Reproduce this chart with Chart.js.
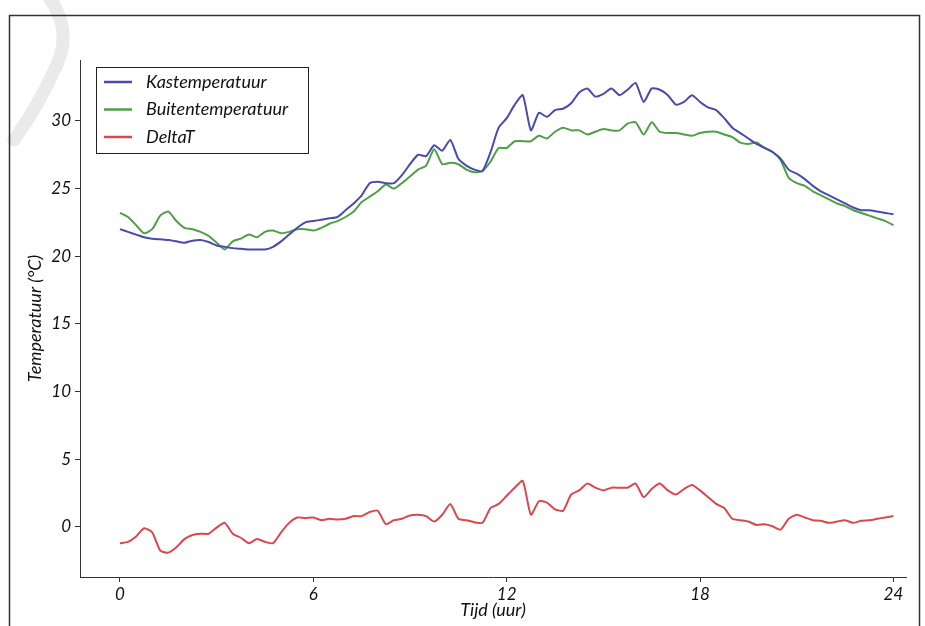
<!DOCTYPE html>
<html>
<head>
<meta charset="utf-8">
<script src="https://cdn.jsdelivr.net/npm/chart.js@4.4.0/dist/chart.umd.min.js"></script>
<style>
  html, body { margin: 0; padding: 0; background: #fff; }
  #wrap { width: 925px; height: 626px; position: relative; }
</style>
</head>
<body>
<div id="wrap"><canvas id="tempChart" width="925" height="626"></canvas></div>
<script>
// tijd in uren (elk kwartier)
const uur = [
  0, 0.25, 0.5, 0.75, 1, 1.25, 1.5, 1.75, 2, 2.25, 2.5, 2.75,
  3, 3.25, 3.5, 3.75, 4, 4.25, 4.5, 4.75, 5, 5.25, 5.5, 5.75,
  6, 6.25, 6.5, 6.75, 7, 7.25, 7.5, 7.75, 8, 8.25, 8.5, 8.75,
  9, 9.25, 9.5, 9.75, 10, 10.25, 10.5, 10.75, 11, 11.25, 11.5, 11.75,
  12, 12.25, 12.5, 12.75, 13, 13.25, 13.5, 13.75, 14, 14.25, 14.5, 14.75,
  15, 15.25, 15.5, 15.75, 16, 16.25, 16.5, 16.75, 17, 17.25, 17.5, 17.75,
  18, 18.25, 18.5, 18.75, 19, 19.25, 19.5, 19.75, 20, 20.25, 20.5, 20.75,
  21, 21.25, 21.5, 21.75, 22, 22.25, 22.5, 22.75, 23, 23.25, 23.5, 23.75, 24
];

const kastemperatuur = [
  22.0, 21.8, 21.6, 21.4, 21.3, 21.25, 21.2, 21.1, 21.0, 21.15, 21.2, 21.05,
  20.8, 20.7, 20.6, 20.55, 20.5, 20.5, 20.5, 20.7, 21.1, 21.6, 22.1, 22.5,
  22.6, 22.7, 22.8, 22.9, 23.4, 23.9, 24.5, 25.4, 25.5, 25.4, 25.4, 26.0,
  26.8, 27.5, 27.4, 28.2, 27.8, 28.6, 27.2, 26.7, 26.4, 26.3, 27.7, 29.5,
  30.2, 31.2, 31.9, 29.3, 30.6, 30.3, 30.8, 30.9, 31.3, 32.1, 32.4, 31.8,
  32.0, 32.4, 31.9, 32.3, 32.8, 31.4, 32.4, 32.3, 31.9, 31.2, 31.4, 31.9,
  31.4, 31.0, 30.8, 30.2, 29.5, 29.1, 28.7, 28.3, 28.0, 27.7, 27.2, 26.4,
  26.1, 25.7, 25.2, 24.8, 24.5, 24.2, 23.9, 23.6, 23.4, 23.4, 23.3, 23.2, 23.1
];

const buitentemperatuur = [
  23.2, 22.9, 22.3, 21.7, 22.0, 23.0, 23.3, 22.6, 22.1, 22.0, 21.8, 21.5,
  21.0, 20.5, 21.1, 21.3, 21.6, 21.4, 21.8, 21.9, 21.7, 21.8, 22.0, 22.0,
  21.9, 22.1, 22.4, 22.6, 22.9, 23.3, 24.0, 24.4, 24.8, 25.3, 25.0, 25.4,
  25.9, 26.4, 26.7, 27.9, 26.8, 26.9, 26.8, 26.4, 26.2, 26.3, 27.0, 28.0,
  28.0, 28.5, 28.5, 28.5, 28.9, 28.7, 29.2, 29.5, 29.3, 29.3, 29.0, 29.2,
  29.4, 29.3, 29.3, 29.8, 29.9, 29.0, 29.9, 29.2, 29.1, 29.1, 29.0, 28.9,
  29.1, 29.2, 29.2, 29.0, 28.8, 28.4, 28.3, 28.4, 28.0, 27.7, 27.1, 25.8,
  25.4, 25.2, 24.8, 24.5, 24.2, 23.9, 23.7, 23.4, 23.2, 23.0, 22.8, 22.6, 22.3
];

const deltaT = [
  -1.2, -1.1, -0.7, -0.1, -0.4, -1.75, -1.9, -1.5, -0.9, -0.6, -0.5, -0.5,
  -0.05, 0.3, -0.5, -0.8, -1.2, -0.9, -1.1, -1.2, -0.4, 0.3, 0.7, 0.65,
  0.7, 0.5, 0.6, 0.55, 0.6, 0.8, 0.8, 1.1, 1.2, 0.2, 0.5, 0.6,
  0.85, 0.9, 0.8, 0.4, 0.9, 1.7, 0.6, 0.5, 0.35, 0.3, 1.4, 1.7,
  2.3, 2.9, 3.4, 0.9, 1.9, 1.8, 1.3, 1.2, 2.4, 2.7, 3.2, 2.9,
  2.7, 2.9, 2.9, 2.9, 3.2, 2.2, 2.8, 3.2, 2.7, 2.4, 2.8, 3.1,
  2.7, 2.2, 1.7, 1.4, 0.6, 0.5, 0.4, 0.15, 0.2, 0.05, -0.2, 0.6,
  0.9, 0.7, 0.5, 0.45, 0.3, 0.4, 0.5, 0.3, 0.45, 0.5, 0.6, 0.7, 0.8
];

const xTicks = [0, 6, 12, 18, 24];
const yTicks = [0, 5, 10, 15, 20, 25, 30];

const fontFam = 'Lato, "Noto Sans", sans-serif';

function toPoints(vals) {
  return uur.map((t, i) => ({ x: t, y: vals[i] }));
}

// lichtgrijze streep linksboven + kader rond de figuur
const framePlugin = {
  id: 'frame',
  beforeDraw(chart) {
    const ctx = chart.ctx;
    ctx.save();
    ctx.strokeStyle = 'rgba(232,232,232,0.9)';
    ctx.lineWidth = 13;
    ctx.lineCap = 'round';
    ctx.beginPath();
    ctx.moveTo(48, -4);
    ctx.quadraticCurveTo(72, 28, 58, 62);
    ctx.quadraticCurveTo(42, 100, 14, 140);
    ctx.stroke();
    ctx.restore();
  },
  afterDraw(chart) {
    const ctx = chart.ctx;
    ctx.save();
    ctx.strokeStyle = '#333';
    ctx.lineWidth = 1.5;
    ctx.beginPath();
    ctx.moveTo(9.5, 630);
    ctx.lineTo(9.5, 15.5);
    ctx.lineTo(919.5, 15.5);
    ctx.lineTo(919.5, 630);
    ctx.stroke();
    ctx.restore();
  }
};

// legenda binnen de grafiek, linksboven
const boxLegend = {
  id: 'boxLegend',
  afterDatasetsDraw(chart) {
    const ctx = chart.ctx;
    const x0 = 96, y0 = 67, w = 212, h = 86;
    ctx.save();
    ctx.fillStyle = '#fff';
    ctx.fillRect(x0, y0, w, h);
    ctx.strokeStyle = '#222';
    ctx.lineWidth = 1;
    ctx.strokeRect(x0 + 0.5, y0 + 0.5, w, h);
    ctx.font = 'italic 18px ' + fontFam;
    ctx.textBaseline = 'middle';
    chart.data.datasets.forEach((ds, i) => {
      const y = 82 + i * 27.5;
      ctx.strokeStyle = ds.borderColor;
      ctx.lineWidth = 2.5;
      ctx.beginPath();
      ctx.moveTo(104, y);
      ctx.lineTo(132, y);
      ctx.stroke();
      ctx.fillStyle = '#111';
      ctx.fillText(ds.label, 146, y);
    });
    ctx.restore();
  }
};

new Chart(document.getElementById('tempChart'), {
  type: 'line',
  data: {
    datasets: [
      { label: 'Kastemperatuur', data: toPoints(kastemperatuur), borderColor: '#4a4aae' },
      { label: 'Buitentemperatuur', data: toPoints(buitentemperatuur), borderColor: '#4f9f46' },
      { label: 'DeltaT', data: toPoints(deltaT), borderColor: '#d8484c' }
    ]
  },
  options: {
    responsive: false,
    animation: false,
    parsing: false,
    elements: {
      point: { radius: 0 },
      line: { borderWidth: 2, tension: 0.2 }
    },
    layout: { padding: { top: 60, right: 19, bottom: 0, left: 0 } },
    plugins: {
      legend: { display: false },
      tooltip: { enabled: false }
    },
    scales: {
      x: {
        type: 'linear',
        min: -1.24,
        max: 24.39,
        afterFit: (s) => { s.height = 49; },
        afterBuildTicks: (s) => { s.ticks = xTicks.map(v => ({ value: v })); },
        grid: { drawOnChartArea: false, tickLength: 5, tickColor: '#333' },
        border: { color: '#333', width: 1 },
        ticks: {
          padding: 2,
          color: '#111',
          font: { family: fontFam, size: 17, style: 'italic' },
          maxRotation: 0
        },
        title: {
          display: true,
          text: 'Tijd (uur)',
          color: '#111',
          font: { family: fontFam, size: 18, style: 'italic' },
          padding: { top: 0, bottom: 5 }
        }
      },
      y: {
        min: -3.7,
        max: 34.5,
        afterFit: (s) => { s.width = 80; },
        afterBuildTicks: (s) => { s.ticks = yTicks.map(v => ({ value: v })); },
        grid: { drawOnChartArea: false, tickLength: 5, tickColor: '#333' },
        border: { color: '#333', width: 1 },
        ticks: {
          padding: 4,
          color: '#111',
          font: { family: fontFam, size: 17, style: 'italic' }
        },
        title: {
          display: true,
          text: 'Temperatuur (°C)',
          color: '#111',
          font: { family: fontFam, size: 18, style: 'italic' },
          padding: { top: 24, bottom: 0 }
        }
      }
    }
  },
  plugins: [framePlugin, boxLegend]
});
</script>
</body>
</html>
